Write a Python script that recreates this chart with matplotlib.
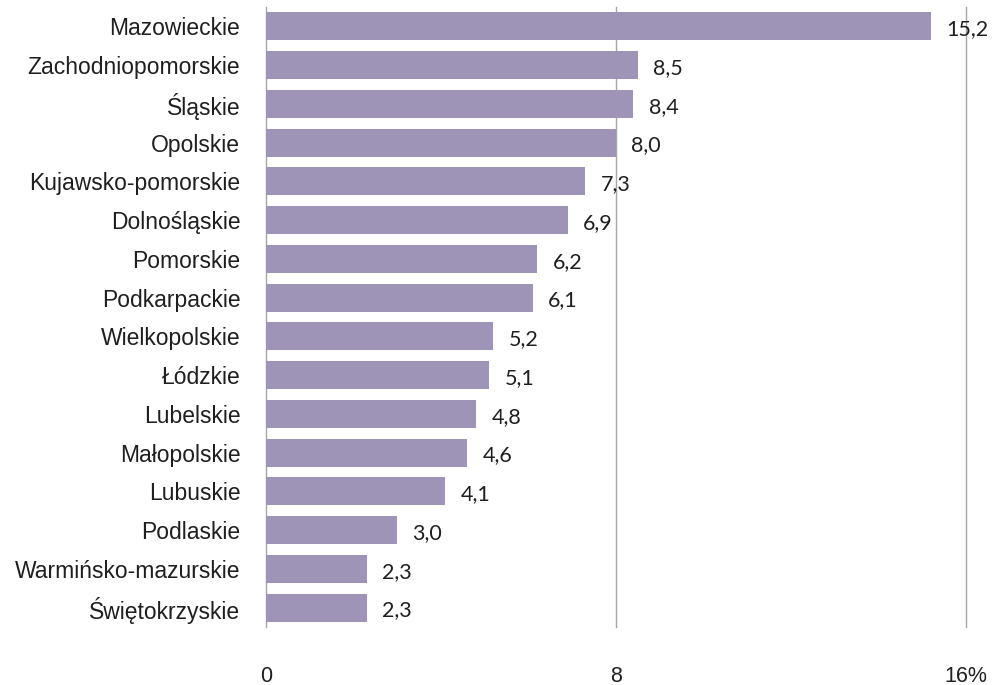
import matplotlib.pyplot as plt

# województwa i wartości (%)
regions = ["Mazowieckie", "Zachodniopomorskie", "Śląskie", "Opolskie",
           "Kujawsko-pomorskie", "Dolnośląskie", "Pomorskie", "Podkarpackie",
           "Wielkopolskie", "Łódzkie", "Lubelskie", "Małopolskie", "Lubuskie",
           "Podlaskie", "Warmińsko-mazurskie", "Świętokrzyskie"]
values = [15.2, 8.5, 8.4, 8.0, 7.3, 6.9, 6.2, 6.1, 5.2, 5.1, 4.8, 4.6, 4.1, 3.0, 2.3, 2.3]
xticks = [0, 8, 16]
xticklabels = ["0", "8", "16%"]

bar_color = "#9E94B8"
grid_color = "#A6A6A6"
text_color = "#1F1F1F"

fig = plt.figure(figsize=(10.08, 6.85), dpi=100)
ax = fig.add_axes([0.2639, 0.0847, 0.6944, 0.9051])

ypos = list(range(len(regions)))
ax.barh(ypos, values, height=0.72, color=bar_color, zorder=2)

for x in xticks:
    ax.axvline(x, color=grid_color, lw=1.0, zorder=1, clip_on=False)

for y, v in zip(ypos, values):
    ax.annotate(f"{v:.1f}".replace(".", ","), (v, y), xytext=(11, -2),
                textcoords="offset points", ha="left", va="center",
                fontsize=15.5, family="Lato", color=text_color)

ax.set_xlim(0, 16)
ax.set_ylim(15.5, -0.5)
ax.set_yticks(ypos)
ax.set_yticklabels(regions, fontsize=16.5, family="Liberation Sans", color=text_color)
ax.set_xticks(xticks)
ax.set_xticklabels(xticklabels, fontsize=15.5, family="Liberation Sans", color=text_color)
ax.tick_params(axis="y", length=0, pad=18.5)
ax.tick_params(axis="x", length=0, pad=28)
for s in ax.spines.values():
    s.set_visible(False)

fig.savefig("out.png", dpi=100)
